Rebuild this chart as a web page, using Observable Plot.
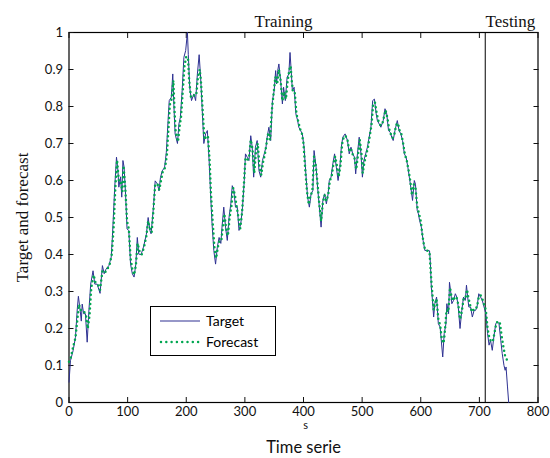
<!DOCTYPE html>
<html>
<head>
<meta charset="utf-8">
<script src="https://cdn.jsdelivr.net/npm/d3@7"></script>
<script src="https://cdn.jsdelivr.net/npm/@observablehq/plot@0.6"></script>
<style>
  html, body { margin: 0; padding: 0; background: #fff; }
  #wrap { position: relative; width: 550px; height: 458px; }
  svg g[aria-label="y-axis label"] text { font-family: "Liberation Serif", serif; font-size: 17px; }
  svg g[aria-label="x-axis label"] text { font-size: 16.5px; }
  #legend { position: absolute; left: 150px; top: 306px; width: 124px; height: 48px; border: 1.2px solid #000; background: #fff; font-family: "Lato", sans-serif; font-size: 14px; }
  #legend .row { position: absolute; left: 8px; display: flex; align-items: center; }
  #legend .row span { margin-left: 5px; }
</style>
</head>
<body>
<div id="wrap"></div>
<script>
// ---- data ----
const targetT = [0,2.5,7,11,14,16,19,21,22.5,25,28,31,34,37,41,44,48,53,57,60,63,68,72,74,78,81,83.5,85,88,90,92,94,96.5,99,102,105,108,111,114,116.5,119,123,127,132,135,138,140,144,147,151,153.5,156,159,163,166,169,171,174.5,177,179,181,185,187.5,190,193,196,199,202,203.5,206,209,213,216,219,222,224.5,227,230,233,236,239,241.5,244,247,250,253,256,259,261,264,267,270,273,276,278.5,281,284,287,290,293,296,299,301,304,307,310,312.5,315,318,321,324,327,330,333,336,338,341,344,347,350,352.5,354,356,358,361,364,366,369,372,375,377,379,381,384,387,390,392,395,398,401,404,407,410,413,416,418,421.5,424,427,430,433,436,439,442,444,447,450,453,456,459,462,464.5,467,471,475,478,481,484,487,489,492,495,498,500.5,503,506,509,512,515,518,521,524,526,529,532,536,539,542,545,548,550.5,553,556,560,563,566,569,572,575,578,580.5,583,586,589,591,594,596,598,601,604,607,610,612.5,615,616.5,618,620,622,624,627,630,633,636,637.5,640,643,644.5,647.5,649,651.5,653,656,659,661.5,664,667,670,673,676,678,680,682,685,688,691,693.5,696,699,702,705,708,711,714,716.5,719,722,725,728,731,733.5,736.5,739,742,744,745.5,748,750];
const targetV = [0.055,0.113,0.14,0.176,0.25,0.287,0.25,0.22,0.266,0.24,0.24,0.163,0.25,0.32,0.356,0.32,0.32,0.295,0.37,0.348,0.36,0.37,0.393,0.447,0.582,0.663,0.627,0.582,0.61,0.555,0.654,0.636,0.563,0.469,0.465,0.374,0.348,0.339,0.374,0.446,0.401,0.40,0.42,0.455,0.5,0.465,0.456,0.527,0.599,0.59,0.572,0.608,0.626,0.635,0.676,0.762,0.816,0.825,0.888,0.798,0.726,0.70,0.753,0.771,0.843,0.933,0.951,1.0,0.94,0.85,0.816,0.834,0.816,0.888,0.94,0.879,0.798,0.70,0.726,0.735,0.654,0.563,0.483,0.411,0.374,0.42,0.446,0.43,0.474,0.528,0.474,0.438,0.50,0.537,0.586,0.575,0.528,0.528,0.465,0.483,0.528,0.60,0.672,0.663,0.654,0.721,0.69,0.609,0.69,0.708,0.627,0.609,0.654,0.672,0.69,0.717,0.744,0.708,0.816,0.843,0.897,0.861,0.897,0.915,0.87,0.807,0.852,0.816,0.879,0.888,0.946,0.897,0.843,0.852,0.78,0.762,0.744,0.735,0.726,0.69,0.618,0.555,0.528,0.564,0.573,0.681,0.636,0.582,0.528,0.474,0.546,0.564,0.537,0.564,0.60,0.609,0.645,0.672,0.636,0.60,0.636,0.69,0.717,0.726,0.708,0.672,0.69,0.672,0.663,0.618,0.672,0.717,0.672,0.609,0.654,0.672,0.69,0.717,0.744,0.816,0.82,0.78,0.762,0.753,0.744,0.762,0.794,0.78,0.735,0.73,0.717,0.708,0.735,0.762,0.735,0.726,0.708,0.672,0.663,0.636,0.609,0.582,0.546,0.60,0.59,0.519,0.51,0.492,0.474,0.438,0.411,0.411,0.411,0.41,0.375,0.312,0.276,0.231,0.267,0.285,0.213,0.204,0.15,0.123,0.186,0.213,0.267,0.24,0.325,0.294,0.267,0.276,0.294,0.285,0.258,0.20,0.249,0.285,0.276,0.317,0.285,0.258,0.258,0.231,0.249,0.249,0.258,0.294,0.285,0.276,0.258,0.24,0.186,0.155,0.168,0.141,0.181,0.213,0.218,0.213,0.168,0.132,0.10,0.087,0.096,0.042,0.0];
const forecastT = [0,3,7,11,14,17,20,23,26,29,32,35,38,42,45,49,53,57,61,65,69,73,76,79,82,85,88,91,93,96,99,102,105,108,111,114,117,120,124,128,132,135,138,141,144,147,151,154,157,160,164,167,170,172,175,178,180,182,186,189,191,194,197,200,203,205,208,211,214,217,220,223,225,228,231,234,237,240,242,245,248,251,254,257,260,262,265,268,271,274,277,280,283,286,289,292,295,298,301,304,307,310,313,316,319,322,325,328,331,334,337,340,343,346,349,352,355,358,361,364,367,370,373,376,378,380,382,385,388,391,394,397,400,403,406,409,412,415,418,421,424,427,430,433,436,439,442,445,448,451,454,457,460,463,466,469,472,475,478,481,484,487,490,493,496,499,501,504,507,510,513,516,519,522,525,528,531,534,537,540,543,546,549,552,555,558,561,564,567,570,573,576,579,582,585,588,591,594,597,600,603,606,609,612,615,618,620,622,624,627,630,633,636,639,641,644,647,650,652,655,658,661,664,667,670,673,676,679,681,684,687,690,693,696,699,702,705,708,711,714,717,720,723,726,729,732,735,738,741,744,746,748];
const forecastV = [0.11,0.12,0.15,0.175,0.22,0.265,0.25,0.25,0.245,0.235,0.2,0.235,0.31,0.345,0.325,0.32,0.305,0.355,0.35,0.36,0.37,0.4,0.47,0.58,0.655,0.6,0.6,0.57,0.64,0.58,0.49,0.47,0.39,0.36,0.345,0.37,0.43,0.41,0.4,0.42,0.45,0.49,0.47,0.46,0.52,0.59,0.59,0.575,0.6,0.625,0.635,0.67,0.75,0.805,0.82,0.87,0.79,0.73,0.705,0.75,0.77,0.84,0.91,0.935,0.93,0.87,0.825,0.83,0.83,0.83,0.88,0.9,0.87,0.79,0.71,0.72,0.72,0.65,0.57,0.49,0.42,0.39,0.42,0.44,0.44,0.47,0.51,0.47,0.45,0.5,0.53,0.58,0.56,0.53,0.5,0.47,0.51,0.58,0.66,0.655,0.66,0.71,0.685,0.62,0.68,0.7,0.635,0.615,0.65,0.67,0.7,0.73,0.71,0.79,0.835,0.88,0.86,0.9,0.87,0.815,0.84,0.82,0.87,0.9,0.91,0.87,0.84,0.84,0.78,0.76,0.74,0.73,0.7,0.63,0.57,0.535,0.56,0.57,0.665,0.64,0.59,0.535,0.49,0.54,0.56,0.545,0.56,0.6,0.61,0.645,0.665,0.64,0.61,0.64,0.7,0.72,0.72,0.71,0.68,0.685,0.67,0.66,0.63,0.67,0.71,0.67,0.62,0.65,0.67,0.69,0.72,0.75,0.81,0.81,0.78,0.76,0.75,0.75,0.77,0.79,0.77,0.74,0.725,0.715,0.725,0.75,0.755,0.735,0.725,0.7,0.67,0.655,0.63,0.6,0.56,0.59,0.58,0.53,0.51,0.49,0.45,0.42,0.41,0.41,0.405,0.33,0.29,0.25,0.265,0.28,0.225,0.21,0.17,0.16,0.19,0.25,0.245,0.31,0.29,0.275,0.285,0.285,0.265,0.225,0.245,0.28,0.28,0.305,0.285,0.265,0.245,0.25,0.25,0.26,0.285,0.29,0.28,0.265,0.25,0.2,0.175,0.165,0.165,0.19,0.215,0.22,0.215,0.18,0.15,0.125,0.12,0.11];
const xTicks = [0,100,200,300,400,500,600,700,800];
const yTicks = [0,0.1,0.2,0.3,0.4,0.5,0.6,0.7,0.8,0.9,1];
const splitAt = [710];
const phaseLabels = ["Training", "Testing"];
const phaseX = [366, 753];
const seriesNames = ["Target", "Forecast"];
const xLabel = "Time serie";
const yLabel = "Target and forecast";

const target = targetT.map((t, i) => ({t, v: targetV[i]}));
const forecast = forecastT.map((t, i) => ({t, v: forecastV[i]}));
const phases = phaseLabels.map((name, i) => ({name, x: phaseX[i]}));

const sans = "Lato, 'Open Sans', sans-serif";
const serif = "'Liberation Serif', serif";

const chart = Plot.plot({
  width: 550,
  height: 458,
  marginLeft: 68.5,
  marginRight: 12.5,
  marginTop: 32,
  marginBottom: 56,
  style: {fontFamily: sans, fontSize: "12px", color: "#111", background: "#fff"},
  x: {domain: [0, 800], ticks: xTicks},
  y: {domain: [0, 1], ticks: yTicks},
  marks: [
    Plot.frame({stroke: "#000", strokeWidth: 1.2}),
    Plot.axisX(xTicks, {anchor: "bottom", tickSize: -5, tickPadding: 9, fontSize: 13, label: xLabel, labelAnchor: "center", labelArrow: "none", labelOffset: 50}),
    Plot.axisX(xTicks, {anchor: "top", tickSize: -5, tickFormat: () => "", label: null}),
    Plot.axisY(yTicks, {anchor: "left", tickSize: -5, tickPadding: 11, fontSize: 13, tickFormat: d3.format("~g"), label: yLabel, labelAnchor: "center", labelArrow: "none", labelOffset: 53}),
    Plot.axisY(yTicks, {anchor: "right", tickSize: -5, tickFormat: () => "", label: null}),
    Plot.ruleX(splitAt, {stroke: "#000", strokeWidth: 1}),
    Plot.line(target, {x: "t", y: "v", stroke: "#2e3192", strokeWidth: 1}),
    Plot.line(forecast, {x: "t", y: "v", stroke: "#00a650", strokeWidth: 2.5, strokeDasharray: "0,4.6", strokeLinecap: "round"}),
    Plot.text(phases, {x: "x", text: "name", frameAnchor: "top", dy: -18, fontFamily: serif, fontSize: 17, fill: "#111"}),
    Plot.text(["s"], {frameAnchor: "bottom", dy: 26.5, dx: 2, fontSize: 11, fontFamily: sans, fill: "#111"})
  ]
});

const wrap = document.getElementById("wrap");
wrap.appendChild(chart);

// legend
const legend = document.createElement("div");
legend.id = "legend";
legend.innerHTML = `
  <div class="row" style="top:5px">
    <svg width="42" height="16"><line x1="1" y1="8" x2="41" y2="8" stroke="#2e3192" stroke-width="1.2"/></svg>
    <span>${seriesNames[0]}</span>
  </div>
  <div class="row" style="top:26px">
    <svg width="42" height="16"><line x1="2" y1="8" x2="41" y2="8" stroke="#00a650" stroke-width="2.5" stroke-dasharray="0,5.3" stroke-linecap="round"/></svg>
    <span>${seriesNames[1]}</span>
  </div>`;
wrap.appendChild(legend);
</script>
</body>
</html>
